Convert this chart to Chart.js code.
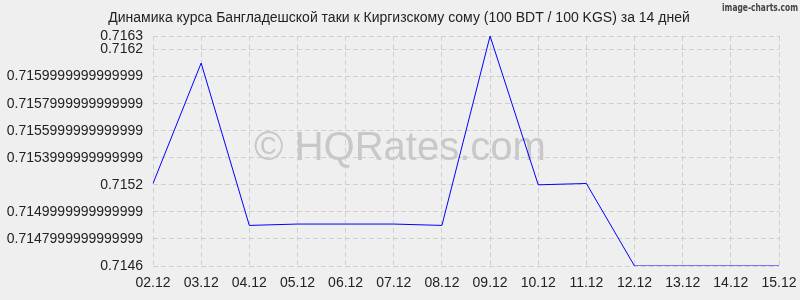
<!DOCTYPE html>
<html>
<head>
<meta charset="utf-8">
<script src="https://cdn.jsdelivr.net/npm/chart.js@4"></script>
<style>
  html, body { margin: 0; padding: 0; background: #efefef; }
  #rateChart { display: block; }
</style>
</head>
<body>
<canvas id="rateChart" width="800" height="300"></canvas>
<script>
const days = ['02.12', '03.12', '04.12', '05.12', '06.12', '07.12', '08.12',
              '09.12', '10.12', '11.12', '12.12', '13.12', '14.12', '15.12'];
const rates = [0.71521, 0.7161, 0.7149, 0.71491, 0.71491, 0.71491, 0.7149,
               0.7163, 0.7152, 0.71521, 0.7146, 0.7146, 0.7146, 0.7146];
const tickValues = [0.7146, 0.7148, 0.715, 0.7152, 0.7154, 0.7156, 0.7158, 0.716, 0.7162, 0.7163];
const tickLabels = ['0.7146', '0.7147999999999999', '0.7149999999999999', '0.7152',
                    '0.7153999999999999', '0.7155999999999999', '0.7157999999999999',
                    '0.7159999999999999', '0.7162', '0.7163'];
const titleText = 'Динамика курса Бангладешской таки к Киргизскому сому (100 BDT / 100 KGS) за 14 дней';

const fontFamily = '"Liberation Sans", Arial, sans-serif';

// Title, watermark and credit text
const decorations = {
    id: 'decorations',
    beforeDatasetsDraw(chart) {
        const ctx = chart.ctx;
        ctx.save();
        ctx.fillStyle = '#c8c8c8';
        ctx.font = '40px ' + fontFamily;
        ctx.textAlign = 'center';
        ctx.textBaseline = 'alphabetic';
        ctx.fillText('© HQRates.com', 400, 160);
        ctx.restore();
    },
    afterDraw(chart) {
        const ctx = chart.ctx;
        ctx.save();
        ctx.fillStyle = '#222222';
        ctx.font = '14px ' + fontFamily;
        ctx.textAlign = 'center';
        ctx.textBaseline = 'middle';
        ctx.fillText(titleText, 399, 18);
        ctx.restore();

        // squeeze the credit text to the narrow width seen in the picture
        ctx.save();
        ctx.fillStyle = '#444444';
        ctx.font = 'bold 11px "DejaVu Sans", sans-serif';
        ctx.textBaseline = 'middle';
        const credit = 'image-charts.com';
        const w = ctx.measureText(credit).width;
        ctx.translate(722, 8);
        ctx.scale(76 / w, 1);
        ctx.fillText(credit, 0, 0);
        ctx.restore();
    }
};

const gridStyle = { color: '#cfcfcf', lineWidth: 1, drawTicks: false };
const borderStyle = { display: false, dash: [5, 3] };

new Chart(document.getElementById('rateChart'), {
    type: 'line',
    data: {
        labels: days,
        datasets: [{
            data: rates,
            borderColor: '#0000ff',
            borderWidth: 1,
            pointRadius: 0,
            tension: 0,
            fill: false
        }]
    },
    options: {
        responsive: false,
        animation: false,
        layout: { padding: { left: 0, right: 21, top: 36, bottom: 0 } },
        plugins: {
            legend: { display: false },
            tooltip: { enabled: false },
            title: { display: false }
        },
        scales: {
            x: {
                offset: false,
                grid: gridStyle,
                border: borderStyle,
                ticks: {
                    color: '#222222',
                    font: { family: fontFamily, size: 14 },
                    padding: 9,
                    maxRotation: 0,
                    autoSkip: false
                },
                afterFit(scale) {
                    scale.height = 34;
                    scale.paddingLeft = 0;
                    scale.paddingRight = 0;
                }
            },
            y: {
                min: 0.7146,
                max: 0.7163,
                grid: gridStyle,
                border: borderStyle,
                afterBuildTicks(scale) {
                    scale.ticks = tickValues.map(v => ({ value: v }));
                },
                ticks: {
                    color: '#222222',
                    font: { family: fontFamily, size: 14 },
                    padding: 10,
                    callback: function(value, index) {
                        return tickLabels[index];
                    }
                },
                afterFit(scale) {
                    scale.width = 153;
                    scale.paddingTop = 0;
                }
            }
        }
    },
    plugins: [decorations]
});
</script>
</body>
</html>
